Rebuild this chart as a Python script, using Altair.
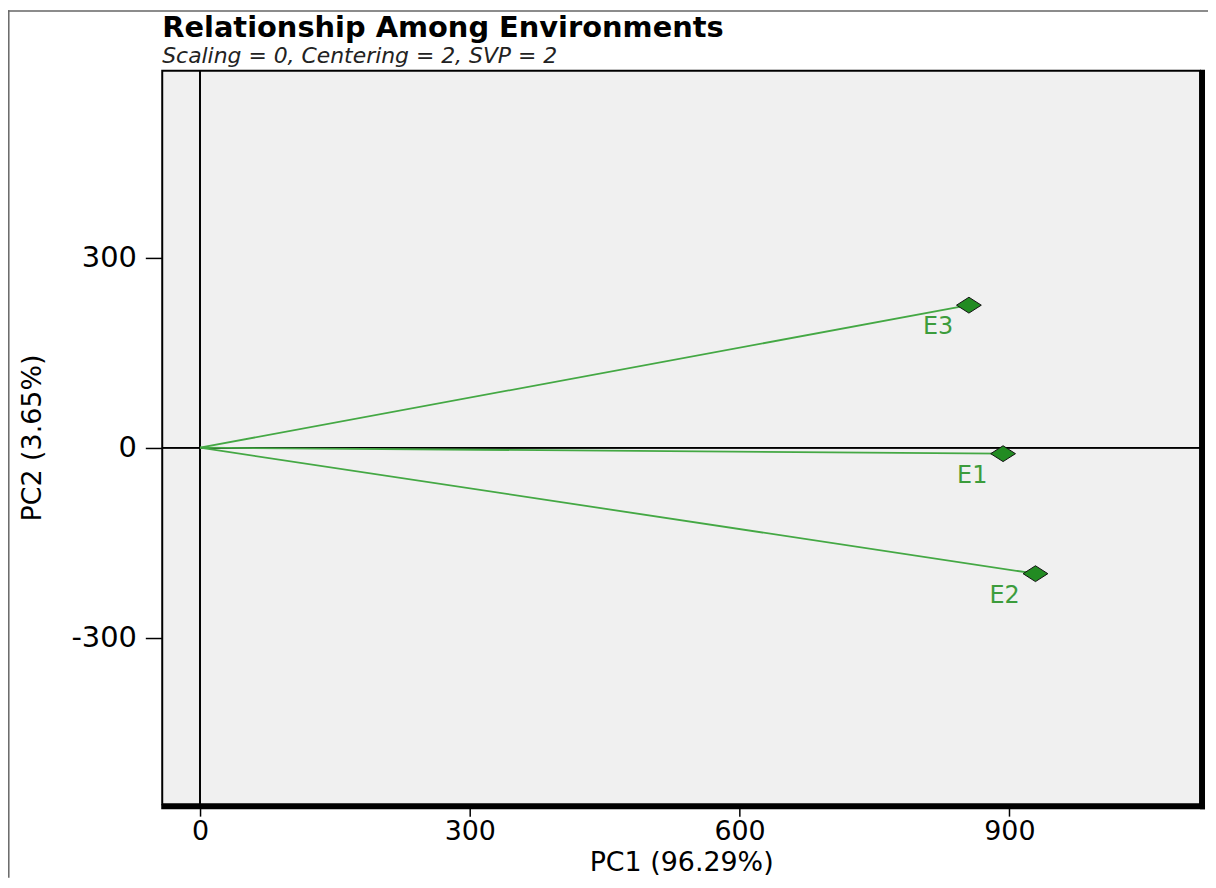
import altair as alt
import pandas as pd

# ---- data ----
envs = ["E1", "E2", "E3"]
pc1 = [893, 929, 855]
pc2 = [-9.5, -199, 225]
x_ticks = [0, 300, 600, 900]
y_ticks = [-300, 0, 300]

df = pd.DataFrame({"env": envs, "PC1": pc1, "PC2": pc2})
one = pd.DataFrame({"k": [0]})

W, H = 1043, 737
FONT = "DejaVu Sans"

xs = alt.Scale(domain=[-42, 1112], nice=False, zero=False)
ys = alt.Scale(domain=[-563, 595], nice=False, zero=False)

x_axis = alt.Axis(values=x_ticks, title="PC1 (96.29%)", domain=False, grid=False,
                  tickSize=12, tickWidth=1.5, tickColor="black",
                  labelFont=FONT, labelFontSize=27, labelColor="black", labelPadding=2,
                  labelExpr="'' + datum.value",
                  titleFont=FONT, titleFontSize=27, titleFontWeight="normal", titleColor="black",
                  titleY=59, titleBaseline="middle")
y_axis = alt.Axis(values=y_ticks, title="PC2 (3.65%)", domain=False, grid=False,
                  tickSize=17, tickWidth=1.5, tickColor="black",
                  labelFont=FONT, labelFontSize=29, labelColor="black", labelPadding=9,
                  labelExpr="'' + datum.value",
                  titleFont=FONT, titleFontSize=27, titleFontWeight="normal", titleColor="black",
                  titleX=-130, titleY=H / 2, titleAngle=270, titleAlign="center",
                  titleBaseline="middle")


def X(field):
    return alt.X(field, scale=xs, axis=x_axis)


def Y(field):
    return alt.Y(field, scale=ys, axis=y_axis)


base = alt.Chart(df)

points = base.mark_point(shape="M -1 0 L 0 -0.64 L 1 0 L 0 0.64 Z", size=620,
                         fill="#228b22", stroke="#111111", strokeWidth=1,
                         opacity=1, fillOpacity=1).encode(
    x=X("PC1:Q"), y=Y("PC2:Q"))

vectors = base.mark_rule(color="#44a844", strokeWidth=1.8).transform_calculate(
    ox="0", oy="0"
).encode(x=X("ox:Q"), y=Y("oy:Q"), x2="PC1:Q", y2="PC2:Q")

zero_v = base.mark_rule(color="black", strokeWidth=1.5).transform_calculate(
    ox="0").encode(x=X("ox:Q"))
zero_h = base.mark_rule(color="black", strokeWidth=1.5).transform_calculate(
    oy="0").encode(y=Y("oy:Q"))

labels = base.mark_text(dx=-31, dy=22, fontSize=24, font=FONT, color="#3c9c3c",
                        align="center", baseline="middle").encode(
    x=X("PC1:Q"), y=Y("PC2:Q"), text="env:N")

# heavier right / bottom frame edges
frame_r = alt.Chart(one).mark_rule(color="black", strokeWidth=5).encode(
    x=alt.value(W + 2.5), y=alt.value(-1), y2=alt.value(H + 5))
frame_b = alt.Chart(one).mark_rule(color="black", strokeWidth=5).encode(
    y=alt.value(H + 2.5), x=alt.value(-1), x2=alt.value(W + 5))

# thin outer border (top and left)
border_t = alt.Chart(one).mark_rule(color="#666666", strokeWidth=1.5).encode(
    y=alt.value(-60.2), x=alt.value(-155), x2=alt.value(W + 10))
border_l = alt.Chart(one).mark_rule(color="#666666", strokeWidth=1.5).encode(
    x=alt.value(-154.2), y=alt.value(-61), y2=alt.value(H + 74))

chart = alt.layer(
    zero_v, zero_h, vectors, frame_r, frame_b, border_t, border_l, points, labels
).properties(
    width=W,
    height=H,
    title=alt.TitleParams(
        text="Relationship Among Environments",
        subtitle="Scaling = 0, Centering = 2, SVP = 2",
        anchor="start", frame="group",
        font=FONT, fontSize=29, fontWeight="bold", color="black",
        subtitleFont=FONT, subtitleFontSize=22, subtitleFontStyle="italic",
        subtitleColor="#222222", subtitlePadding=3, offset=6, dy=64,
    ),
    autosize=alt.AutoSizeParams(type="none"),
    padding={"left": 155, "top": 61, "right": 8, "bottom": 72},
    background="white",
).configure_view(
    fill="#f0f0f0", stroke="black", strokeWidth=2
)

chart.save("out.html", embed_options={"renderer": "svg", "actions": False})
